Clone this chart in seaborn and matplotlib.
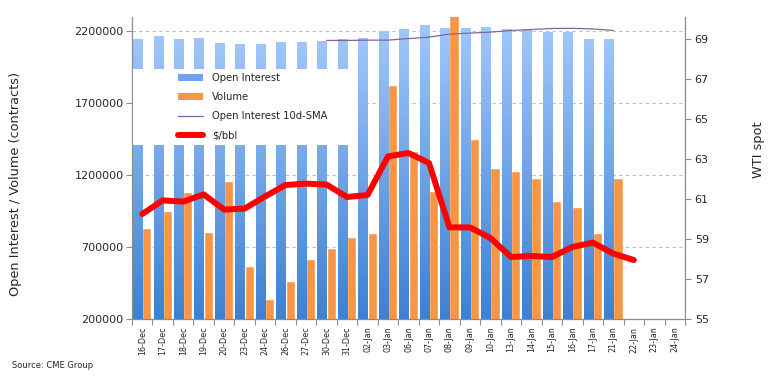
import numpy as np
import pandas as pd
import matplotlib
matplotlib.use("Agg")
import matplotlib.pyplot as plt
import seaborn as sns
from matplotlib.patches import Patch, Rectangle
from matplotlib.lines import Line2D
from matplotlib.colors import LinearSegmentedColormap

nan = np.nan

dates = ['16-Dec', '17-Dec', '18-Dec', '19-Dec', '20-Dec', '23-Dec', '24-Dec',
         '26-Dec', '27-Dec', '30-Dec', '31-Dec', '02-Jan', '03-Jan', '06-Jan',
         '07-Jan', '08-Jan', '09-Jan', '10-Jan', '13-Jan', '14-Jan', '15-Jan',
         '16-Jan', '17-Jan', '21-Jan', '22-Jan', '23-Jan', '24-Jan']

open_interest = [2146000, 2167000, 2146000, 2153000, 2121000, 2112000, 2112000,
                 2126000, 2126000, 2133000, 2146000, 2153000, 2202000, 2216000,
                 2244000, 2223000, 2223000, 2230000, 2216000, 2216000, 2195000,
                 2195000, 2146000, 2146000, nan, nan, nan]

volume = [836000, 948000, 1080000, 808000, 1157000, 571000, 341000,
          467000, 620000, 697000, 767000, 795000, 1826000, 1366000,
          1087000, 2330000, 1449000, 1247000, 1226000, 1177000, 1024000,
          976000, 801000, 1177000, nan, nan, nan]

oi_sma = [nan, nan, nan, nan, nan, nan, nan,
          nan, nan, 2137000, 2137000, 2139000, 2139000, 2150000,
          2160000, 2181000, 2188000, 2195000, 2206000, 2213000, 2220000,
          2221000, 2217000, 2207000, nan, nan, nan]

wti = [60.25, 60.93, 60.87, 61.23, 60.47, 60.52, 61.13,
       61.70, 61.77, 61.72, 61.10, 61.20, 63.13, 63.30,
       62.80, 59.58, 59.58, 59.05, 58.10, 58.15, 58.10,
       58.60, 58.82, 58.27, 57.95, nan, nan]

left_ticks = [200000, 700000, 1200000, 1700000, 2200000]
right_ticks = [55, 57, 59, 61, 63, 65, 67, 69]

BLUE_TOP = '#A0C6F9'
BLUE_BOT = '#3C81D2'
ORANGE = '#F79646'
PURPLE = '#8064A2'
RED = '#FF0000'
GRIS = '#8C8C8C'

sns.set_theme(style="white")
plt.rcParams['font.family'] = ['DejaVu Sans']

df = pd.DataFrame({
    'date': dates * 2,
    'series': ['Open Interest'] * len(dates) + ['Volume'] * len(dates),
    'value': open_interest + volume,
})

fig = plt.figure(figsize=(7.69, 3.80), dpi=100)
ax = fig.add_axes([132 / 769, 1 - 319 / 380, (685 - 132) / 769, (319 - 17) / 380])

sns.barplot(data=df, x='date', y='value', hue='series', order=dates,
            hue_order=['Open Interest', 'Volume'], palette=[BLUE_TOP, ORANGE],
            width=0.9, saturation=1, errorbar=None, legend=False, ax=ax)

y0, y1 = 200000, 2300000
ax.set_ylim(y0, y1)

# gradient fill for open interest bars
cmap = LinearSegmentedColormap.from_list('oi', [BLUE_BOT, BLUE_TOP])
grad = np.linspace(0, 1, 256).reshape(-1, 1)
for bar in ax.containers[0]:
    h = bar.get_height()
    if not np.isfinite(h):
        continue
    x0 = bar.get_x()
    w = bar.get_width()
    img = ax.imshow(grad, cmap=cmap, origin='lower', aspect='auto',
                    extent=[x0, x0 + w, y0, h], zorder=1.5)
    img.set_clip_path(bar)
    bar.set_facecolor('none')
    bar.set_edgecolor('none')

sns.lineplot(x=np.arange(len(dates)), y=oi_sma, color=PURPLE, linewidth=0.9, ax=ax)

ax.set_xlim(-0.5, len(dates) - 0.5)
ax.set_ylim(y0, y1)
ax.set_yticks(left_ticks)
ax.set_yticklabels([str(v) for v in left_ticks], fontsize=8)
ax.set_xticks(np.arange(len(dates)))
ax.set_xticklabels(dates, rotation=90, fontsize=5.8)
ax.set_xticks(np.arange(len(dates) + 1) - 0.5, minor=True)
ax.tick_params(axis='x', which='major', length=0, pad=5.5)
ax.tick_params(axis='x', which='minor', length=4, color=GRIS, width=0.8, bottom=True)
ax.tick_params(axis='y', length=4, color=GRIS, width=0.8, left=True, pad=2)
ax.grid(axis='y', linestyle=(0, (3, 3)), color='#BFBFBF', linewidth=0.8)
ax.set_axisbelow(True)
ax.set_xlabel('')
ax.set_ylabel('Open Interest / Volume (contracts)', fontsize=9.3)
ax.yaxis.set_label_coords(-0.199, 0.447)
for s in ['top', 'right']:
    ax.spines[s].set_visible(False)
for s in ['left', 'bottom']:
    ax.spines[s].set_color(GRIS)
    ax.spines[s].set_linewidth(0.9)

ax2 = ax.twinx()
sns.lineplot(x=np.arange(len(dates)), y=wti, color=RED, linewidth=4.3, ax=ax2)
for ln in ax2.lines:
    ln.set_solid_joinstyle('round')
    ln.set_solid_capstyle('round')
ax2.set_ylim(55, 70.1)
ax2.set_xlim(-0.5, len(dates) - 0.5)
ax2.set_yticks(right_ticks)
ax2.set_yticklabels([str(v) for v in right_ticks], fontsize=8)
ax2.tick_params(axis='y', length=4, color=GRIS, width=0.8, right=True, pad=3)
ax2.set_ylabel('WTI spot', fontsize=9.3)
ax2.yaxis.set_label_coords(1.121, 0.561)
ax2.grid(False)
for s in ['top', 'left', 'bottom']:
    ax2.spines[s].set_visible(False)
ax2.spines['right'].set_color(GRIS)
ax2.spines['right'].set_linewidth(0.9)

# white legend box over the bars
ax2.add_patch(Rectangle((0.002, 0.576), 0.405, 0.252, transform=ax2.transAxes,
                        facecolor='white', edgecolor='none', zorder=4))
handles = [
    Patch(facecolor='#6FA5EC', edgecolor='none'),
    Patch(facecolor=ORANGE, edgecolor='none'),
    Line2D([], [], color=PURPLE, linewidth=0.9),
    Line2D([], [], color=RED, linewidth=4.3, solid_capstyle='round'),
]
labels = ['Open Interest', 'Volume', 'Open Interest 10d-SMA', '$/bbl']
leg = ax2.legend(handles, labels, loc='upper left', bbox_to_anchor=(0.083, 0.815),
                 frameon=False, fontsize=7.2, handlelength=2.5, handleheight=0.6,
                 handletextpad=0.9, labelspacing=0.92, borderpad=0, borderaxespad=0)
leg.set_zorder(5)

fig.text(12 / 769, 1 - 365 / 380, 'Source: CME Group', fontsize=6, va='center')

fig.savefig('out.png', dpi=100)
